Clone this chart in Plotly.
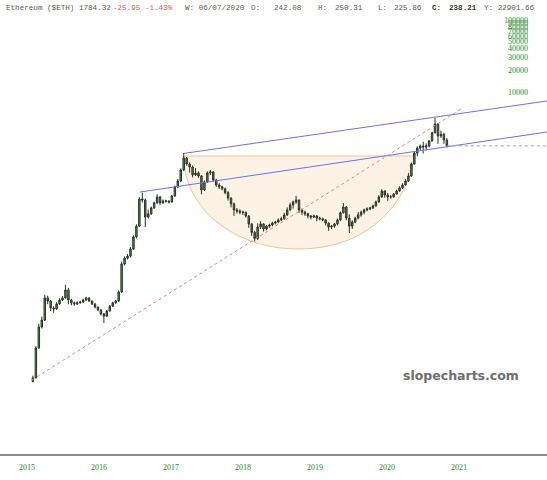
"""Ethereum weekly candles with channel, trendline and cup overlay (slopecharts style)."""

import math
import pandas as pd
import plotly.graph_objects as go

# ── Data ──────────────────────────────────────────────────────────────────────
START_DATE = "2015-01-31"
STEP = "15D"
FIRST_OPEN = 0.95

CLOSE = [
    1.07, 2.78, 5.45, 6.8, 13.8, 12.5, 10.0, 9.7, 11.4, 12.9,
    13.8, 17.8, 12.9, 11.8, 11.4, 11.8, 12.1, 12.9, 13.8, 12.5,
    11.4, 10.3, 9.4, 8.25, 7.7, 9.1, 10.6, 11.8, 12.5, 16.7,
    40.9, 49.2, 52.6, 66, 97, 137, 327, 316, 183, 203,
    245, 288, 348, 288, 306, 306, 297, 359, 481, 580,
    826, 1208, 1000, 908, 704, 752, 680, 436, 564, 752,
    777, 600, 511, 481, 452, 400, 336, 280, 230, 222,
    214, 214, 190, 147, 112, 92, 133, 147, 125, 137,
    142, 151, 156, 167, 173, 196, 230, 270, 297, 316,
    230, 214, 203, 190, 183, 190, 177, 173, 167, 151,
    133, 137, 147, 167, 210, 253, 177, 137, 156, 177,
    196, 214, 230, 237, 245, 262, 297, 348, 422, 371,
    348, 348, 383, 422, 465, 511, 580, 680, 1000, 1420,
    1660, 1780, 1720, 1780, 2090, 2710, 3590, 2450, 2580, 2154,
    1784,
]
HIGH = [
    1.15, 2.95, 6.0, 7.6, 15.3, 14.8, 12.9, 10.6, 12.0, 13.6,
    14.6, 21.0, 19.0, 13.4, 12.3, 12.4, 12.6, 13.4, 14.3, 14.0,
    12.7, 11.6, 10.5, 9.6, 8.5, 9.4, 11.0, 12.2, 13.0, 17.5,
    44, 52, 56, 70, 102, 145, 345, 400, 330, 232,
    256, 300, 380, 360, 320, 318, 312, 372, 500, 620,
    870, 1420, 1250, 1050, 950, 880, 790, 700, 590, 790,
    830, 790, 620, 540, 500, 470, 420, 345, 290, 245,
    235, 225, 218, 195, 150, 118, 150, 160, 150, 142,
    148, 158, 162, 176, 185, 210, 250, 290, 310, 361,
    320, 240, 225, 210, 195, 198, 194, 185, 180, 170,
    154, 142, 152, 175, 218, 287, 260, 200, 165, 185,
    215, 225, 240, 250, 253, 272, 310, 370, 445, 430,
    395, 370, 395, 440, 490, 540, 620, 750, 1050, 1470,
    1760, 1860, 2040, 1940, 2150, 2800, 4370, 3700, 2900, 2700,
    2300,
]
LOW = [
    0.93, 1.05, 2.7, 5.2, 6.6, 11.3, 9.0, 8.6, 9.4, 11.1,
    12.5, 13.5, 11.3, 10.9, 10.8, 11.0, 11.5, 11.8, 12.6, 12.1,
    11.0, 9.9, 9.0, 7.9, 6.2, 7.5, 8.9, 10.3, 11.4, 12.2,
    16.3, 39, 47, 50, 64, 93, 133, 290, 133, 175,
    196, 238, 280, 270, 280, 292, 283, 290, 350, 460,
    560, 800, 950, 760, 650, 680, 640, 380, 420, 550,
    700, 570, 480, 450, 430, 380, 310, 250, 190, 205,
    200, 195, 180, 130, 100, 84, 88, 125, 115, 120,
    130, 136, 145, 150, 160, 168, 190, 225, 240, 280,
    210, 195, 190, 175, 170, 178, 160, 165, 160, 140,
    118, 125, 130, 140, 160, 205, 165, 110, 125, 150,
    170, 185, 200, 220, 228, 238, 255, 290, 340, 340,
    308, 330, 340, 375, 410, 450, 500, 560, 660, 980,
    1280, 1560, 1400, 1550, 1700, 2050, 2650, 1900, 2300, 1900,
    1700,
]

YEAR_TICKS = ["2015", "2016", "2017", "2018", "2019", "2020", "2021"]
PRICE_TICKS = [10000, 20000, 30000, 40000, 50000, 60000, 70000, 80000, 90000, 100000]

# drawn overlays (date, price)
UPPER_CHANNEL = (["2017-03-06", "2022-03-23"], [1400, 7500])
LOWER_CHANNEL = (["2016-07-27", "2022-03-23"], [408, 2780])
RED_TREND = (["2015-01-26", "2021-01-11"], [1.0, 5800])
CUP_LEFT, CUP_BASE, CUP_RIGHT = "2017-03-06", "2018-10-07", "2020-05-17"
CUP_RIM, CUP_FLOOR = 1290, 66

X_RANGE = ["2014-08-17", "2022-03-23"]
Y_RANGE = [-1.028, 5.069]

GREEN = "#1f8a1f"
HEADER_GRAY = "#5a5a5a"

dates = pd.date_range(START_DATE, periods=len(CLOSE), freq=STEP)
opens = [FIRST_OPEN] + CLOSE[:-1]

fig = go.Figure()
fig.add_trace(go.Candlestick(
    x=dates, open=opens, high=HIGH, low=LOW, close=CLOSE,
    increasing=dict(fillcolor="#5f9a5f", line=dict(color="#243424", width=1)),
    decreasing=dict(fillcolor="#8a786c", line=dict(color="#243424", width=1)),
    whiskerwidth=0, showlegend=False,
))


# ── Cup outline (two cubic béziers) ───────────────────────────────────────────
def _d(s):
    return pd.Timestamp(s)


def _fmt(ts):
    return ts.strftime("%Y-%m-%d")


L, B, R = _d(CUP_LEFT), _d(CUP_BASE), _d(CUP_RIGHT)
lt, lb = math.log10(CUP_RIM), math.log10(CUP_FLOOR)
k1, k2 = 0.56, 0.78
pts = [
    (L, CUP_RIM),
    (L, 10 ** (lt - k1 * (lt - lb))),
    (B - (B - L) * k1, CUP_FLOOR),
    (B, CUP_FLOOR),
    (B + (R - B) * k2, CUP_FLOOR),
    (R, 10 ** (lb + k2 * (lt - lb))),
    (R, CUP_RIM),
]
p = [f"{_fmt(t)},{v:.3f}" for t, v in pts]
cup_path = f"M{p[0]} C{p[1]} {p[2]} {p[3]} C{p[4]} {p[5]} {p[6]} Z"
fig.add_shape(type="path", path=cup_path, xref="x", yref="y", layer="below",
              fillcolor="rgba(252,222,188,0.38)", line=dict(color="#f2c38e", width=1))

for (xs, ys), col, dash in [(UPPER_CHANNEL, "#6f6ff2", "solid"),
                            (LOWER_CHANNEL, "#6f6ff2", "solid"),
                            (RED_TREND, "#ee7f7f", "dot")]:
    fig.add_shape(type="line", xref="x", yref="y",
                  x0=xs[0], x1=xs[1], y0=ys[0], y1=ys[1],
                  line=dict(color=col, width=1, dash=dash))

# last-price guide
fig.add_shape(type="line", xref="x", yref="y",
              x0=dates[-1], x1=X_RANGE[1], y0=CLOSE[-1], y1=CLOSE[-1],
              line=dict(color="#a0a0a0", width=1, dash="dot"))

# ── Header ───────────────────────────────────────────────────────────────────
header = [
    ("Ethereum ($ETH) 1784.32", 5, HEADER_GRAY),
    ("-25.95 -1.43%", 112, "#e35d5d"),
    ("W: 06/07/2020", 184, HEADER_GRAY),
    ("O:", 250, HEADER_GRAY),
    ("242.08", 273, HEADER_GRAY),
    ("H:", 317, HEADER_GRAY),
    ("250.31", 334, HEADER_GRAY),
    ("L:", 377, HEADER_GRAY),
    ("225.86", 393, HEADER_GRAY),
    ("<b>C:</b>", 431, "#333333"),
    ("<b>238.21</b>", 448, "#333333"),
    ("Y: 22901.66", 483, HEADER_GRAY),
]
for txt, px, col in header:
    fig.add_annotation(text=txt, x=px / 547, y=1 + 7 / 439, xref="paper", yref="paper",
                       xanchor="left", yanchor="middle", showarrow=False, borderpad=0,
                       font=dict(family="Liberation Mono", size=7.6, color=col))

fig.add_annotation(text="<b>slopecharts.com</b>", x=461 / 547, y=(454 - 375) / 439,
                   xref="paper", yref="paper", xanchor="center", yanchor="middle",
                   showarrow=False,
                   font=dict(family="DejaVu Sans", size=12.5, color="#6e6e6e"))

fig.update_layout(
    width=547, height=480,
    margin=dict(l=0, r=0, t=15, b=26, autoexpand=False),
    plot_bgcolor="white", paper_bgcolor="white",
    showlegend=False,
    xaxis=dict(type="date", range=X_RANGE, rangeslider=dict(visible=False),
               tickmode="array", tickvals=[f"{y}-01-01" for y in YEAR_TICKS], ticktext=YEAR_TICKS,
               tickfont=dict(family="Liberation Serif", size=8, color=GREEN),
               showgrid=False, zeroline=False, showline=True, linecolor="#8c8c8c", linewidth=2,
               ticks="", ticklabelstandoff=4),
    yaxis=dict(type="log", range=Y_RANGE, side="right",
               tickmode="array", tickvals=PRICE_TICKS, ticktext=[str(v) for v in PRICE_TICKS],
               ticklabelposition="inside", ticklabelstandoff=16,
               tickfont=dict(family="Liberation Serif", size=8, color=GREEN),
               showgrid=False, zeroline=False, showline=False, ticks=""),
)

# page body has an 8px default margin; drop it so the figure sits at the corner
fig.write_html("out.html", config={"displayModeBar": False},
               post_script="document.body.style.margin='0';")
